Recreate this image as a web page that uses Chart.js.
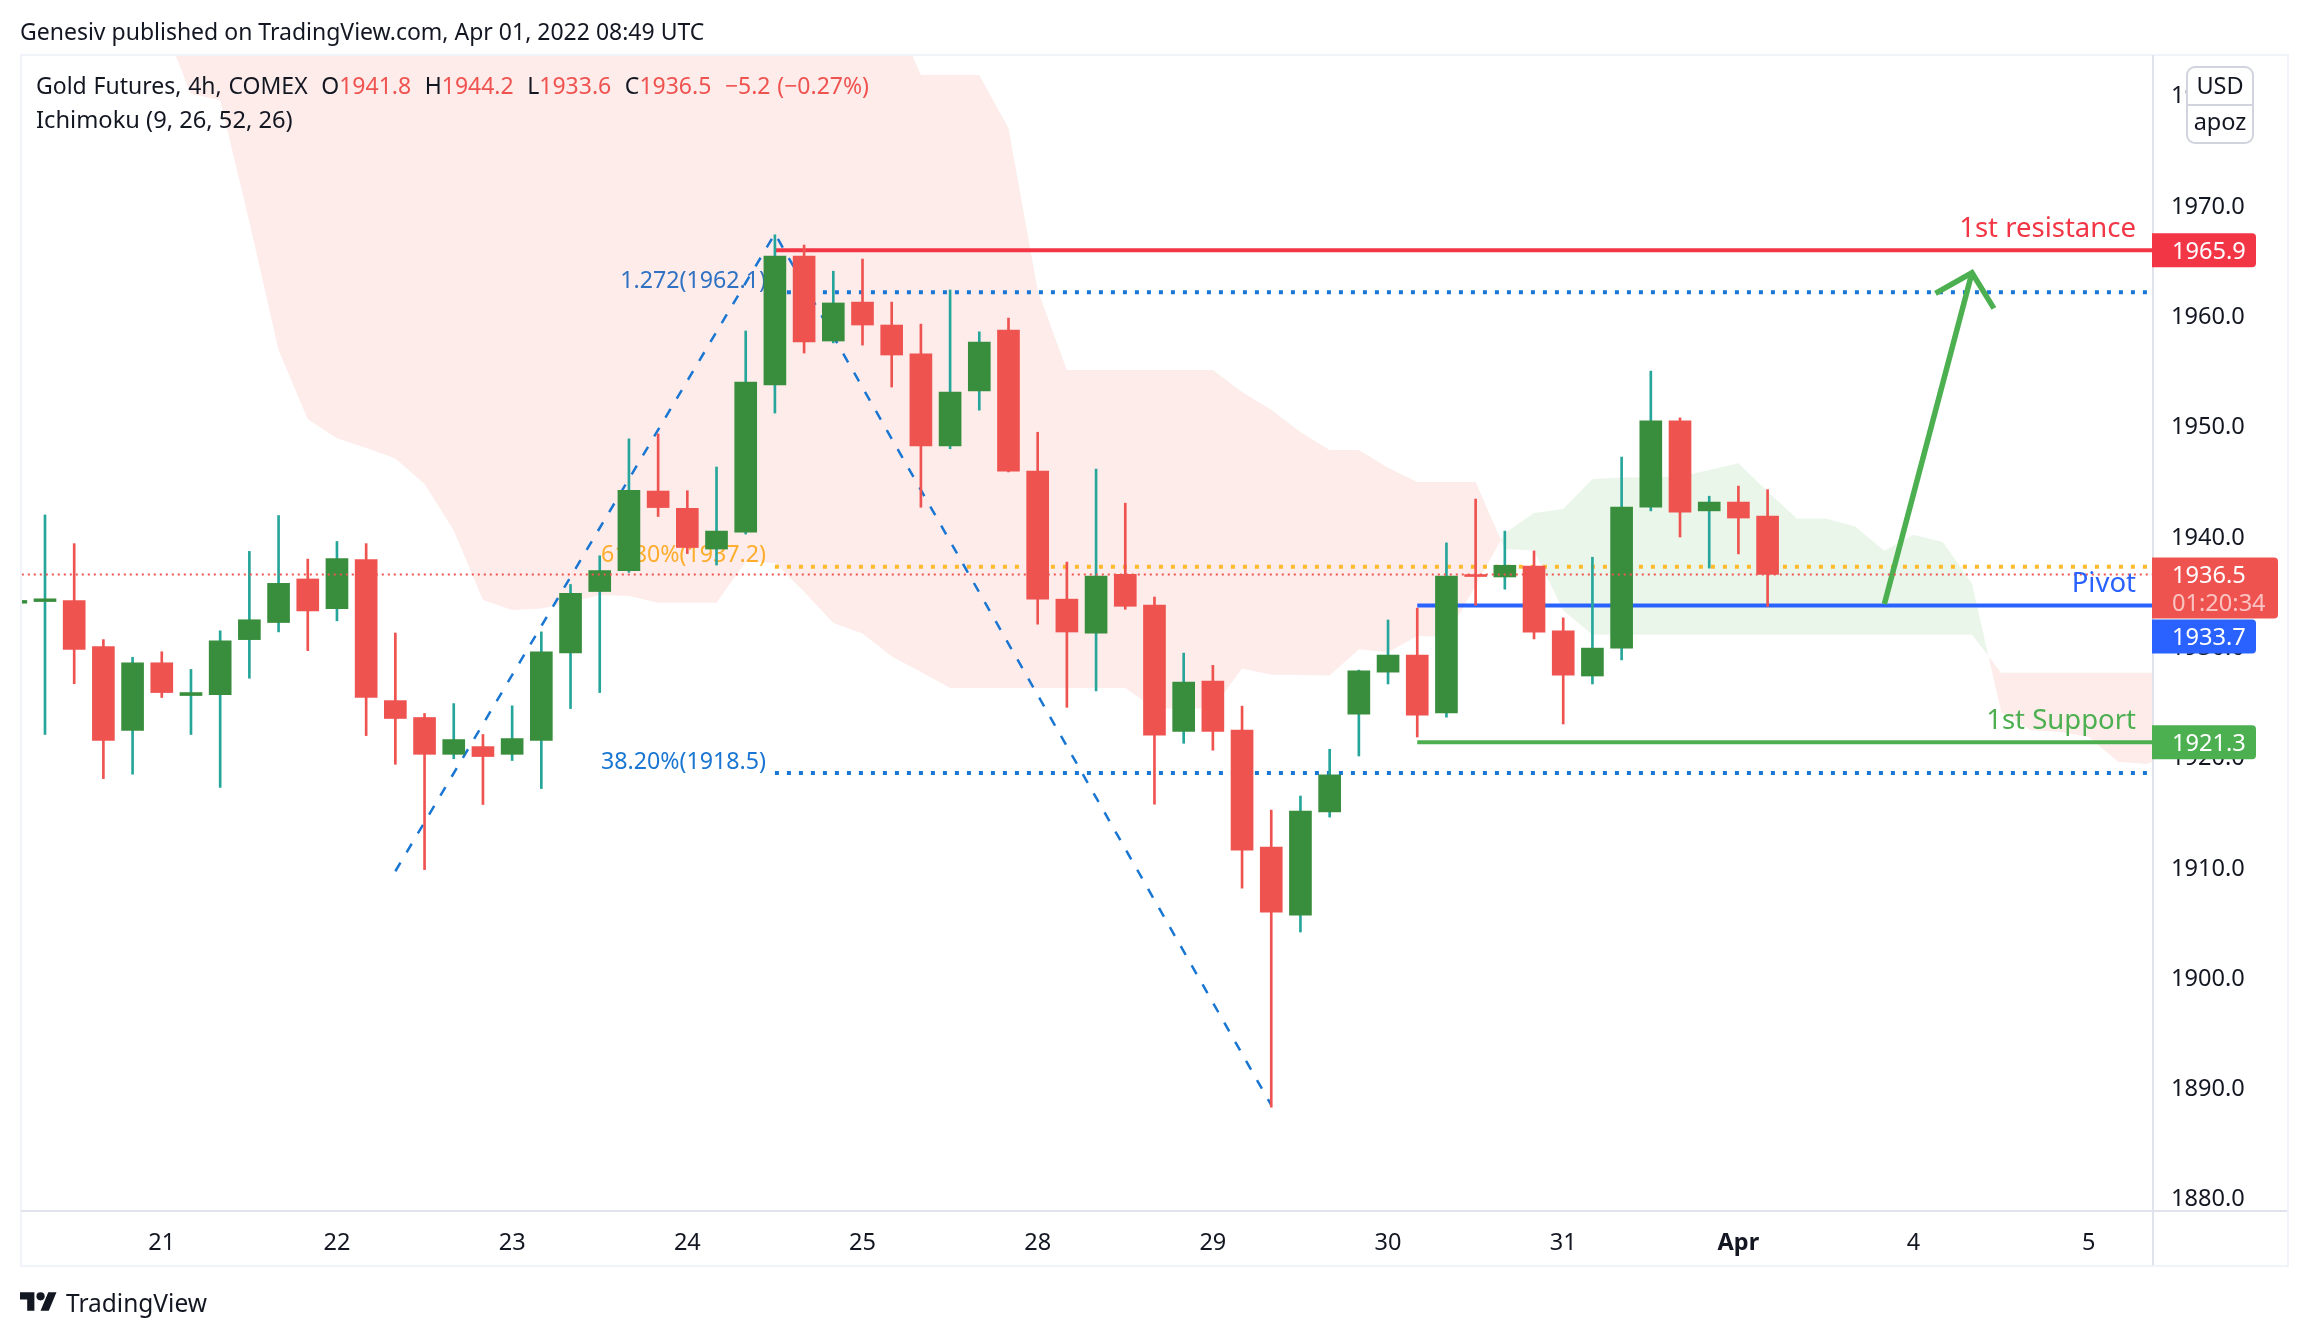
<!DOCTYPE html>
<html>
<head>
<meta charset="utf-8">
<script src="https://cdn.jsdelivr.net/npm/chart.js@4"></script>
<style>
  html, body { margin: 0; padding: 0; background: #fff; }
  #wrap { position: relative; width: 2308px; height: 1336px; overflow: hidden; font-family: "Noto Sans", sans-serif; color: #131722; }
  #wrap canvas { position: absolute; left: 0; top: 0; }
  .txt { position: absolute; white-space: pre; font-size: 23px; line-height: 30px; }
  .up { color: #ef5350; }
</style>
</head>
<body>
<div id="wrap">
  <canvas id="myChart" width="2308" height="1336"></canvas>
  <div class="txt" style="left:20px;top:16px">Genesiv published on TradingView.com, Apr 01, 2022 08:49 UTC</div>
  <div class="txt" style="left:36px;top:70px;word-spacing:0.8px">Gold Futures, 4h, COMEX  O<span class="up">1941.8</span>  H<span class="up">1944.2</span>  L<span class="up">1933.6</span>  C<span class="up">1936.5</span>  <span class="up">−5.2 (−0.27%)</span></div>
  <div class="txt" style="left:36px;top:104px;font-size:23.7px">Ichimoku (9, 26, 52, 26)</div>
  <svg style="position:absolute;left:20px;top:1288px" width="37" height="29" viewBox="0 0 36 28"><path fill="#131722" d="M14 22H7V11H0V4h14v18zM28 22h-8l7.5-18h8L28 22z"/><circle fill="#131722" cx="20" cy="8" r="4"/></svg>
  <div class="txt" style="left:66px;top:1288px;font-size:24.5px">TradingView</div>
</div>
<script>
// candles, first one is cut off by the left edge of the plot
const firstBar = -1;
const opens = [1933.9,1934.05,1934.14,1929.97,1922.36,1928.5,1925.53,1925.6,1930.6,1932.15,1936.1,1933.4,1937.85,1925.07,1923.54,1920.2,1920.9,1920.2,1921.45,1929.4,1934.96,1936.86,1944.07,1942.5,1938.81,1940.35,1953.68,1965.38,1957.67,1961.2,1959.12,1956.5,1948.15,1953.14,1958.67,1945.87,1934.27,1931.18,1936.52,1933.73,1922.28,1926.83,1922.4,1911.79,1905.63,1914.98,1923.83,1927.65,1929.2,1923.95,1936.5,1936.28,1937.27,1931.39,1927.3,1929.83,1942.61,1950.44,1942.27,1943.07,1941.8];
const highs = [1934.2,1941.9,1939.3,1930.6,1929.0,1929.5,1927.9,1931.4,1938.6,1941.85,1937.9,1939.5,1939.3,1931.2,1923.9,1924.8,1922.0,1924.6,1931.3,1935.6,1938.2,1948.8,1949.25,1944.1,1946.25,1958.58,1967.3,1966.37,1964.0,1965.1,1961.2,1959.2,1962.3,1958.5,1959.75,1949.4,1937.63,1946.06,1942.97,1934.46,1929.38,1928.27,1924.57,1915.15,1916.42,1920.66,1927.84,1932.38,1933.45,1939.37,1943.34,1940.44,1938.64,1932.57,1938.07,1947.15,1954.94,1950.7,1943.6,1944.52,1944.2];
const lows = [1933.9,1922.0,1926.6,1918.0,1918.4,1925.35,1922.0,1917.2,1927.1,1931.3,1929.6,1932.3,1921.9,1919.3,1909.75,1919.8,1915.65,1919.64,1917.1,1924.35,1925.8,1936.7,1941.76,1938.4,1937.36,1940.17,1951.14,1956.58,1957.5,1957.3,1953.5,1942.6,1947.9,1951.4,1945.8,1932.0,1924.46,1925.95,1933.35,1915.68,1921.2,1920.57,1908.07,1888.22,1904.09,1914.51,1920.05,1926.58,1921.77,1923.57,1933.72,1935.17,1930.66,1922.95,1926.58,1928.76,1942.27,1939.9,1937.08,1938.37,1933.6];
const closes = [1934.15,1934.3,1929.7,1921.45,1928.5,1925.8,1925.8,1930.5,1932.4,1935.7,1933.2,1937.95,1925.35,1923.45,1920.2,1921.54,1920.0,1921.63,1929.5,1934.8,1936.86,1944.14,1942.57,1938.95,1940.44,1953.95,1965.38,1957.58,1961.12,1959.12,1956.4,1948.15,1953.05,1957.58,1945.88,1934.27,1931.29,1936.37,1933.62,1921.94,1926.75,1922.28,1911.52,1905.9,1915.06,1918.34,1927.76,1929.2,1923.76,1936.35,1936.32,1937.34,1931.28,1927.38,1929.83,1942.61,1950.44,1942.15,1943.07,1941.62,1936.5];

// ichimoku cloud, both spans start at bar 4 (spanB is above the frame until bar 29)
const spanStart = 4;
const spanA = [1986.71,1980.06,1979.52,1968.46,1956.85,1950.57,1948.85,1947.97,1947.01,1944.7,1940.49,1934.19,1933.28,1933.43,1933.98,1934.64,1934.55,1933.94,1933.94,1933.94,1937.66,1937.54,1934.93,1932.1,1931.15,1929.06,1927.66,1926.21,1926.21,1926.21,1926.21,1926.21,1926.21,1926.21,1924.36,1924.36,1924.36,1927.99,1927.42,1927.39,1927.35,1929.72,1929.45,1930.93,1930.86,1935.49,1940.26,1942.08,1942.44,1945.16,1945.29,1945.34,1945.36,1945.97,1946.58,1944.02,1941.58,1941.58,1940.86,1938.65,1940.1,1939.44,1935.68,1924.03,1922.4,1922.22,1921.77,1919.53,1919.32,1920.32];
const spanB = [1992,1992,1992,1992,1992,1992,1992,1992,1992,1992,1992,1992,1992,1992,1992,1992,1992,1992,1992,1992,1992,1992,1992,1992,1992,1987.86,1981.79,1981.79,1981.79,1976.98,1962.29,1955.04,1955.04,1955.04,1955.04,1955.04,1955.04,1953.04,1951.45,1949.42,1947.78,1947.78,1946.18,1944.88,1944.88,1944.88,1938.81,1938.68,1933.23,1931.05,1931.05,1931.05,1931.05,1931.05,1931.05,1931.05,1931.05,1931.05,1931.05,1931.05,1931.05,1931.05,1931.05,1927.6,1927.6,1927.6,1927.6,1927.6,1927.6,1927.6];

// axes
const dayLabels = ['21','22','23','24','25','28','29','30','31','Apr','4','5'];
const dayBars = [4,10,16,22,28,34,40,46,52,58,64,70];
const priceTicks = [1880,1890,1900,1910,1920,1930,1940,1950,1960,1970,1980];

// drawings on the chart
const zigzagBars = [12,25,42];
const zigzagPrices = [1909.6,1967.4,1888.4];
const arrowBars = [63,66];
const arrowPrices = [1933.83,1963.86];
const arrowHeadBars = [64.75,66,66.75];
const arrowHeadPrices = [1961.99,1963.86,1960.63];
const fibLevels = [1962.1,1937.2,1918.5];
const fibNames = ['1.272(1962.1)','61.80%(1937.2)','38.20%(1918.5)'];
const fibColors = ['#1976d2','#ffb92c','#1976d2'];
const levelPrices = [1965.9,1933.7,1921.3];
const levelNames = ['1st resistance','Pivot','1st Support'];
const levelColors = ['#f23645','#2962ff','#4caf50'];
const levelStart = [25,47,47];
const lastPrice = 1936.5;
const countdown = '01:20:34';

const FONT = '"Noto Sans", sans-serif';
const GREEN = '#388e3c', TEAL = '#26a69a', RED = '#ef5350';

const barX = opens.map((v, i) => firstBar + i);
const isUp = i => closes[i] >= opens[i];
const toLine = (xs, ys) => xs.map((x, i) => ({ x: x, y: ys[i] }));
const spanX = spanA.map((v, i) => spanStart + i);

function lineSet(points, color, width, dash, order) {
    return {
        type: 'line', data: points, borderColor: color, borderWidth: width,
        borderDash: dash, pointRadius: 0, fill: false, order: order, tension: 0
    };
}

const datasets = [
    { type: 'line', data: toLine(spanX, spanB), borderWidth: 0, pointRadius: 0, fill: false, order: 20 },
    {
        type: 'line', data: toLine(spanX, spanA), borderWidth: 0, pointRadius: 0, order: 20,
        fill: { target: 0, above: 'rgba(76,175,80,0.115)', below: 'rgba(244,67,54,0.1)' }
    }
];
fibLevels.forEach((v, k) => datasets.push(lineSet([{ x: 25, y: v }, { x: 72, y: v }], fibColors[k], 4, [4, 8], 15)));
levelPrices.forEach((v, k) => datasets.push(lineSet([{ x: levelStart[k], y: v }, { x: 73, y: v }], levelColors[k], 4, [], 14)));
datasets.push(lineSet(toLine(zigzagBars, zigzagPrices), '#1976d2', 2.5, [10, 12], 13));
datasets.push(lineSet(toLine(arrowBars, arrowPrices), '#4caf50', 5.5, [], 12));
datasets.push(lineSet(toLine(arrowHeadBars, arrowHeadPrices), '#4caf50', 5.5, [], 12));
// wicks, then bodies on top
datasets.push({
    type: 'bar', order: 6, grouped: false, barPercentage: 1, categoryPercentage: 1, maxBarThickness: 2, clip: 0,
    data: barX.map((x, i) => ({ x: x, y: [lows[i], highs[i]] })),
    backgroundColor: barX.map((x, i) => isUp(i) ? TEAL : RED)
});
datasets.push({
    type: 'bar', order: 5, grouped: false, barPercentage: 1, categoryPercentage: 1, maxBarThickness: 22, clip: 0,
    data: barX.map((x, i) => ({ x: x, y: [opens[i], closes[i]] })),
    backgroundColor: barX.map((x, i) => isUp(i) ? GREEN : RED)
});
datasets.push(lineSet([{ x: -1, y: lastPrice }, { x: 73, y: lastPrice }], RED, 2, [2, 4], 1));

function tag(ctx, right, top, height, color) {
    ctx.fillStyle = color;
    ctx.beginPath();
    ctx.roundRect(2152, top, right - 2152, height, [0, 4, 4, 0]);
    ctx.fill();
}

const tvDrawings = {
    id: 'tvDrawings',
    beforeDatasetsDraw(chart) {
        const { ctx, scales: { x, y } } = chart;
        ctx.save();
        ctx.textAlign = 'right';
        ctx.textBaseline = 'middle';
        ctx.font = '23.2px ' + FONT;
        fibLevels.forEach((v, k) => {
            ctx.fillStyle = fibColors[k];
            ctx.fillText(fibNames[k], x.getPixelForValue(25) - 9, y.getPixelForValue(v) - 11);
        });
        ctx.restore();
    },
    afterDraw(chart) {
        const { ctx, chartArea: a, scales: { y } } = chart;
        ctx.save();
        // frame and axis separators
        ctx.strokeStyle = '#f0f3fa';
        ctx.lineWidth = 2;
        ctx.strokeRect(21, 55, 2267, 1211);
        ctx.strokeStyle = '#e0e3eb';
        ctx.beginPath();
        ctx.moveTo(a.right, 55);
        ctx.lineTo(a.right, 1265);
        ctx.moveTo(21, a.bottom);
        ctx.lineTo(2287, a.bottom);
        ctx.stroke();

        // labels above the level lines
        ctx.textAlign = 'right';
        ctx.textBaseline = 'middle';
        ctx.font = '27.5px ' + FONT;
        levelPrices.forEach((v, k) => {
            ctx.fillStyle = levelColors[k];
            ctx.fillText(levelNames[k], 2136, y.getPixelForValue(v) - 21);
        });

        // price tags on the axis, blue one is pushed below the last price tag
        ctx.textAlign = 'left';
        ctx.font = '23.6px ' + FONT;
        const lp = y.getPixelForValue(lastPrice);
        const tagShift = [0, 31, 0];
        levelPrices.forEach((v, k) => {
            const py = y.getPixelForValue(v) + tagShift[k];
            tag(ctx, 2256, py - 17, 34, levelColors[k]);
            ctx.fillStyle = '#fff';
            ctx.fillText(v.toFixed(1), 2172, py + 2);
        });
        tag(ctx, 2278, lp - 17, 61, RED);
        ctx.fillStyle = '#fff';
        ctx.fillText(lastPrice.toFixed(1), 2172, lp + 2);
        ctx.fillStyle = 'rgba(255,255,255,0.65)';
        ctx.fillText(countdown, 2172, lp + 30);

        // currency / unit box
        ctx.fillStyle = '#fff';
        ctx.strokeStyle = '#d1d4dc';
        ctx.lineWidth = 2;
        ctx.beginPath();
        ctx.roundRect(2187, 67, 66, 76, 8);
        ctx.fill();
        ctx.stroke();
        ctx.beginPath();
        ctx.moveTo(2187, 105);
        ctx.lineTo(2253, 105);
        ctx.stroke();
        ctx.fillStyle = '#131722';
        ctx.textAlign = 'center';
        ctx.font = '23.5px ' + FONT;
        ctx.fillText('USD', 2220, 87);
        ctx.fillText('apoz', 2220, 123);
        ctx.restore();
    }
};

new Chart(document.getElementById('myChart').getContext('2d'), {
    data: { datasets: datasets },
    plugins: [tvDrawings],
    options: {
        responsive: false,
        animation: false,
        devicePixelRatio: 1,
        events: [],
        layout: { padding: { left: 20, top: 54, right: 20, bottom: 70 } },
        plugins: { legend: { display: false }, tooltip: { enabled: false } },
        scales: {
            x: {
                type: 'linear',
                offset: false,
                min: -0.856,
                max: 72.2,
                border: { display: false },
                grid: { display: false },
                afterBuildTicks: s => { s.ticks = dayBars.map(v => ({ value: v })); },
                afterFit: s => { s.height = 55; },
                ticks: {
                    autoSkip: false, maxRotation: 0, padding: 10, color: '#131722',
                    font: c => ({ family: FONT, size: 23.5, weight: dayLabels[c.index] === 'Apr' ? 'bold' : 'normal' }),
                    callback: (v, i) => dayLabels[i]
                }
            },
            y: {
                type: 'linear',
                position: 'right',
                min: 1878.8,
                max: 1983.69,
                border: { display: false },
                grid: { display: false },
                afterBuildTicks: s => { s.ticks = priceTicks.map(v => ({ value: v })); },
                afterFit: s => { s.width = 135; },
                ticks: {
                    autoSkip: false, crossAlign: 'near', padding: 10, labelOffset: 2, color: '#131722',
                    font: { family: FONT, size: 23.6 },
                    callback: v => v.toFixed(1)
                }
            }
        }
    }
});
</script>
</body>
</html>
